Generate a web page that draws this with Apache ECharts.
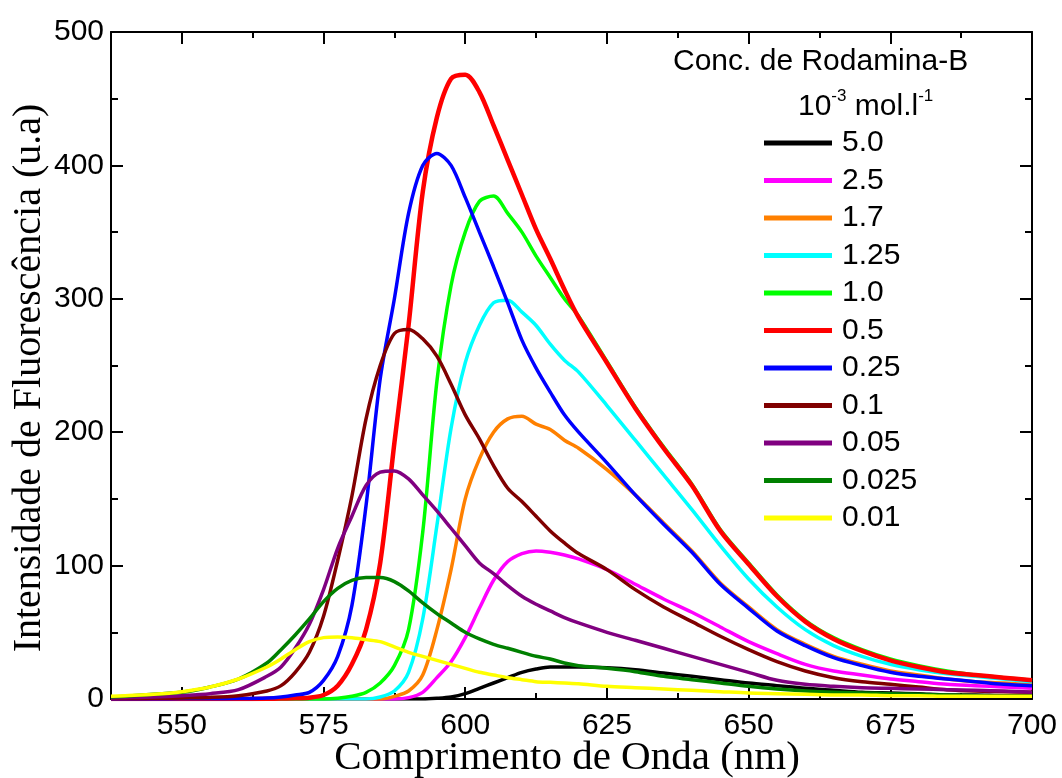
<!DOCTYPE html>
<html>
<head>
<meta charset="utf-8">
<title>Fluorescência Rodamina-B</title>
<script src="https://cdn.jsdelivr.net/npm/echarts@6/dist/echarts.min.js"></script>
<style>
  html, body { margin: 0; padding: 0; background: #fff; }
  #chart { width: 1062px; height: 778px; }
</style>
</head>
<body>
<div id="chart"></div>
<script>
// comprimento de onda (nm)
const wavelength = [537.5, 540, 545, 550, 555, 560, 565, 567.5, 570, 572.5, 575, 577.5, 580, 582.5, 585, 587.5,
  590, 592.5, 595, 597.5, 600, 602.5, 605, 607.5, 610, 612.5, 615, 617.5, 620,
  625, 630, 635, 640, 645, 650, 655, 660, 665, 670, 675, 680, 685, 690, 695, 700]

// concentrações (10^-3 mol/l)
const concLabels = ['5.0', '2.5', '1.7', '1.25', '1.0', '0.5', '0.25', '0.1', '0.05', '0.025', '0.01']
const lineColors = ['#000000', '#ff00ff', '#ff8000', '#00ffff', '#00ff00', '#ff0000', '#0000ff', '#800000', '#800080', '#008000', '#ffff00']

const c5_0 = [0, 0, 0, 0, 0, 0, 0, 0, 0, 0, 0, 0, 0, 0, 0, 0, 0, 0, 0.5, 1.5, 4, 8, 12, 16, 20, 22.5, 24, 24, 24,
  23.5, 22, 19.5, 17, 14.5, 12, 10, 8, 6.5, 5, 4.5, 4, 3, 3, 2.5, 2.5]
const c2_5 = [0, 0, 0, 0, 0, 0, 0, 0, 0, 0, 0, 0, 0, 0, 0, 0, 1, 5, 16, 28, 46, 68, 89, 103, 109, 111, 110, 108, 105,
  97, 86, 75, 65, 54, 43, 34, 26, 21, 18, 15, 13, 11, 10, 9, 8]
const c1_7 = [0, 0, 0, 0, 0, 0, 0, 0, 0, 0, 0, 0, 0, 0, 0, 2, 6, 18, 52, 97, 150, 180, 200, 210, 212, 206, 202, 194, 188,
  172, 153, 132, 111, 87, 69, 52, 41, 32, 26, 21, 18, 15, 13, 12, 10.5]
const c1_25 = [0, 0, 0, 0, 0, 0, 0, 0, 0, 0, 0, 0, 0, 0, 1.5, 6, 20, 60, 130, 203, 252, 280, 297, 299, 290, 280, 266, 254, 245,
  220, 194, 168, 142, 115, 90, 69, 52, 40, 32, 26, 22, 19, 17, 15, 13]
const c1_0 = [0, 0, 0, 0, 0, 0, 0, 0, 0, 0, 0, 0.5, 2, 5, 12, 25, 52, 125, 238, 310, 350, 373, 377, 364, 350, 332, 316, 300, 287,
  253, 219, 189, 161, 127, 102, 78, 59, 46, 37, 30, 25, 21, 18, 16, 14]
const c0_5 = [0, 0, 0, 0, 0, 0, 0.2, 0.3, 0.5, 1, 3, 10, 26, 52, 102, 192, 280, 380, 436, 465, 468, 455, 430, 404, 378, 352, 330, 307, 286,
  252, 218, 188, 160, 126, 101, 77, 58, 45, 36, 29, 24, 20, 18, 16, 14]
const c0_25 = [0, 0, 0, 0.1, 0.2, 0.3, 0.7, 1.5, 3, 5, 14, 32, 70, 145, 240, 300, 364, 400, 409, 400, 376, 350, 324, 297, 269, 248, 230, 213, 200,
  177, 153, 131, 110, 86, 68, 51, 40, 31, 25, 20, 17, 15, 13, 11, 10]
const c0_1 = [0.3, 0.4, 0.5, 0.8, 1.2, 2.5, 6, 10, 20, 35, 62, 104, 152, 210, 250, 274, 277, 270, 257, 236, 213, 195, 175, 158, 148, 137, 126, 117, 109,
  97, 82, 69, 58, 47, 37, 28, 21, 16, 13, 11, 9, 7, 6, 5.5, 5]
const c0_05 = [0.8, 1, 1.5, 2.5, 4, 7, 17, 24, 38, 56, 82, 113, 137, 160, 170, 171, 165, 153, 141, 128, 115, 102, 94, 85, 77, 71, 66, 61, 57,
  50, 44, 38, 32, 26, 20, 14, 11, 9.5, 8.5, 8, 7.5, 7, 6.5, 6, 5]
const c0_025 = [1.5, 2, 3.5, 5, 9, 15, 27, 37, 48, 60, 73, 83, 89, 91, 91, 88, 81, 72, 64, 57, 50, 45, 41, 38, 35, 32, 30, 27, 25,
  23, 20.5, 17, 14.5, 12, 9.5, 7.5, 6, 5, 4.5, 4, 3.5, 3, 2.5, 2, 2]
const c0_01 = [2, 2.5, 3.5, 5.5, 9, 15, 24, 30, 37, 43, 46, 46.5, 46, 44.5, 43, 39, 35, 32, 29, 26, 23, 20, 18, 16, 14.5, 13, 12.5, 12, 11.5,
  9.5, 8.5, 7.5, 6.5, 5.5, 4.5, 4, 3.5, 3, 3, 2.5, 2.5, 2, 2, 2, 2]

const intensities = [c5_0, c2_5, c1_7, c1_25, c1_0, c0_5, c0_25, c0_1, c0_05, c0_025, c0_01]

// eixos
const xMajorTicks = [550, 575, 600, 625, 650, 675, 700]
const xMinorTicks = [562.5, 587.5, 612.5, 637.5, 662.5, 687.5]

const sans = '"Liberation Sans", Arial, sans-serif'
const serif = '"Liberation Serif", "Times New Roman", serif'
const labelSize = 30

const chart = echarts.init(document.getElementById('chart'))

function xAxisFor(position, ticks, len, withLine, withLabel) {
  return {
    type: 'value',
    position: position,
    min: 537.5,
    max: 700,
    axisLine: { show: withLine, onZero: false, lineStyle: { color: '#000', width: 2 } },
    axisTick: { show: true, inside: true, length: len, customValues: ticks, lineStyle: { color: '#000', width: 2 } },
    axisLabel: withLabel
      ? { show: true, customValues: ticks, color: '#000', fontSize: labelSize, fontFamily: sans, margin: 12 }
      : { show: false },
    splitLine: { show: false }
  }
}

function yAxisFor(position, withLabel) {
  return {
    type: 'value',
    position: position,
    min: 0,
    max: 500,
    interval: 100,
    axisLine: { show: true, onZero: false, lineStyle: { color: '#000', width: 2 } },
    axisTick: { show: true, inside: true, length: 12, lineStyle: { color: '#000', width: 2 } },
    minorTick: { show: true, splitNumber: 2, length: 7, lineStyle: { color: '#000', width: 2 } },
    axisLabel: withLabel
      ? { show: true, color: '#000', fontSize: labelSize, fontFamily: sans, margin: 7 }
      : { show: false },
    splitLine: { show: false },
    minorSplitLine: { show: false }
  }
}

const series = concLabels.map((name, i) => ({
  name: name,
  type: 'line',
  xAxisIndex: 0,
  yAxisIndex: 0,
  color: lineColors[i],
  showSymbol: false,
  smooth: 0.3,
  lineStyle: { width: name === '0.5' ? 4.5 : 3.5, color: lineColors[i] },
  data: wavelength.map((w, j) => [w, intensities[i][j]])
}))

chart.setOption({
  animation: false,
  backgroundColor: '#fff',
  grid: { left: 111, right: 30, top: 32, bottom: 79, outerBoundsMode: 'none' },
  xAxis: [
    xAxisFor('bottom', xMajorTicks, 12, true, true),
    xAxisFor('bottom', xMinorTicks, 6, false, false),
    xAxisFor('top', xMajorTicks, 12, true, false),
    xAxisFor('top', xMinorTicks, 6, false, false)
  ],
  yAxis: [yAxisFor('left', true), yAxisFor('right', false)],
  legend: {
    orient: 'vertical',
    left: 764,
    top: 128,
    padding: 0,
    icon: 'rect',
    itemWidth: 68,
    itemHeight: 5,
    itemGap: 7.5,
    textStyle: { color: '#000', fontSize: labelSize, fontFamily: sans, lineHeight: 30, padding: [0, 0, 0, 5] },
    data: concLabels
  },
  graphic: [
    {
      type: 'text',
      x: 673,
      y: 62,
      style: { text: 'Conc. de Rodamina-B', fill: '#000', fontSize: labelSize, fontFamily: sans, verticalAlign: 'middle' }
    },
    {
      type: 'text',
      x: 798,
      y: 105,
      style: {
        text: '{n|10}{s|-3}{n| mol.l}{s|-1}',
        fill: '#000',
        verticalAlign: 'middle',
        rich: {
          n: { fontSize: labelSize, fontFamily: sans, fill: '#000', lineHeight: 34, verticalAlign: 'bottom' },
          s: { fontSize: 17, fontFamily: sans, fill: '#000', lineHeight: 34, verticalAlign: 'top' }
        }
      }
    },
    {
      type: 'text',
      x: 567,
      y: 758,
      style: { text: 'Comprimento de Onda (nm)', fill: '#000', fontSize: 41, fontFamily: serif, align: 'center', verticalAlign: 'middle' }
    },
    {
      type: 'text',
      x: 29,
      y: 378,
      rotation: Math.PI / 2,
      style: { text: 'Intensidade de Fluorescência (u.a)', fill: '#000', fontSize: 40, fontFamily: serif, align: 'center', verticalAlign: 'middle' }
    }
  ],
  series: series
})
</script>
</body>
</html>
